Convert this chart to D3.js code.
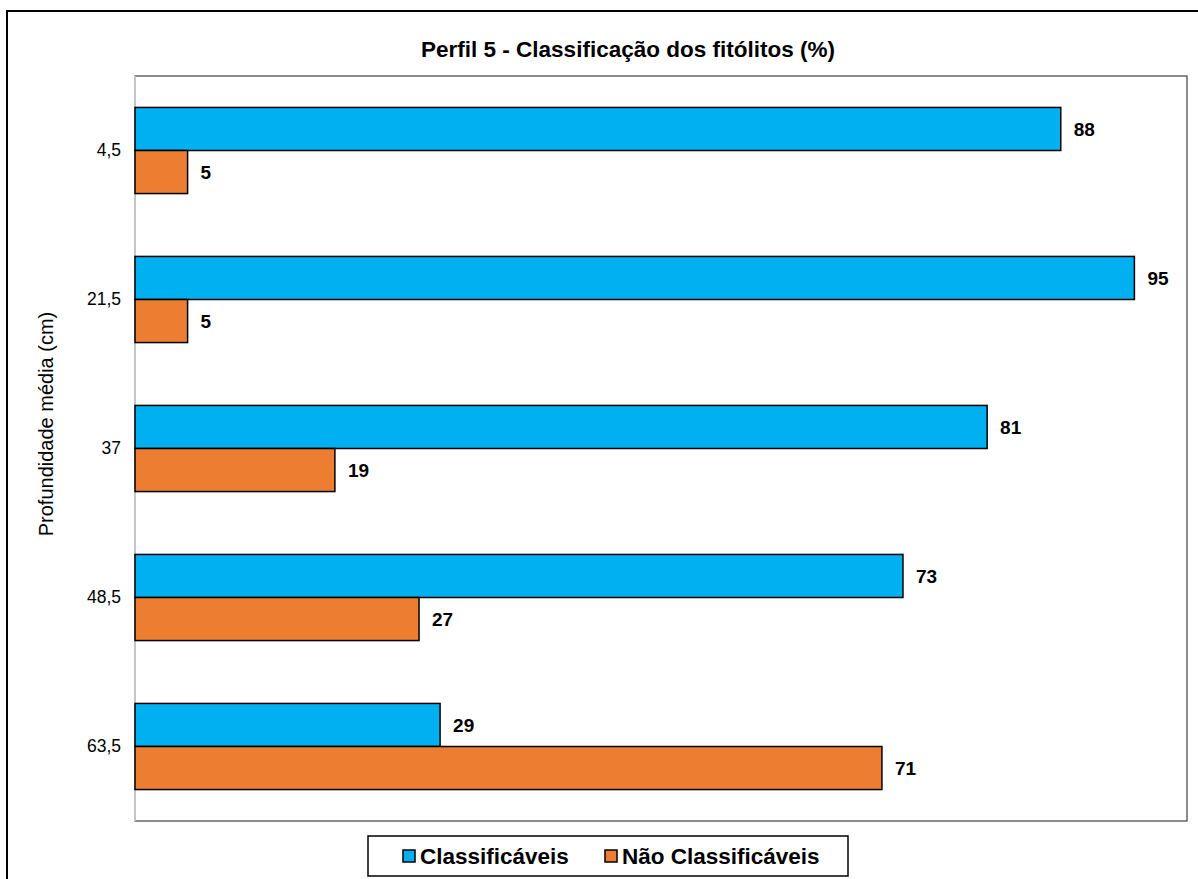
<!DOCTYPE html>
<html>
<head>
<meta charset="utf-8">
<script src="https://cdn.jsdelivr.net/npm/d3@7"></script>
<style>
  body { margin: 0; background: #fff; }
  svg { display: block; font-family: "Liberation Sans", Arial, sans-serif; }
</style>
</head>
<body>
<svg id="chart" width="1198" height="879"></svg>
<script>
// Depth classes (cm) and phytolith classification percentages
const depths = ["4,5", "21,5", "37", "48,5", "63,5"];
const classificaveis = [88, 95, 81, 73, 29];
const naoClassificaveis = [5, 5, 19, 27, 71];
const seriesNames = ["Classificáveis", "Não Classificáveis"];
const seriesColors = ["#00B0F0", "#ED7D31"];
const xDomain = [0, 100];

const svg = d3.select("#chart");
const W = 1198, H = 879;

// outer frame
svg.append("rect")
  .attr("x", 7).attr("y", 11)
  .attr("width", W + 10).attr("height", H + 10)
  .attr("fill", "#fff").attr("stroke", "#000").attr("stroke-width", 2);

const plot = { left: 135, top: 76, right: 1187, bottom: 821 };

const y = d3.scaleBand()
  .domain(depths)
  .range([plot.top, plot.bottom])
  .paddingInner(0.422)
  .paddingOuter(0.211);

const sub = d3.scaleBand()
  .domain(seriesNames)
  .range([0, y.bandwidth()]);

const x = d3.scaleLinear().domain(xDomain).range([plot.left, plot.right]);

// plot area border
svg.append("rect")
  .attr("x", plot.left).attr("y", plot.top)
  .attr("width", plot.right - plot.left).attr("height", plot.bottom - plot.top)
  .attr("fill", "#fff").attr("stroke", "#404040").attr("stroke-width", 1.2);

// category axis line
svg.append("line")
  .attr("x1", plot.left).attr("x2", plot.left)
  .attr("y1", plot.top).attr("y2", plot.bottom)
  .attr("stroke", "#d9d9d9").attr("stroke-width", 1.5);

// title
svg.append("text")
  .attr("x", 628).attr("y", 57)
  .attr("text-anchor", "middle")
  .attr("font-size", 22.5).attr("font-weight", "bold")
  .text("Perfil 5 - Classificação dos fitólitos (%)");

const rows = depths.map((d, i) => ({
  depth: d,
  values: [
    { name: seriesNames[0], value: classificaveis[i], color: seriesColors[0] },
    { name: seriesNames[1], value: naoClassificaveis[i], color: seriesColors[1] }
  ]
}));

const groups = svg.append("g").selectAll("g")
  .data(rows).join("g")
  .attr("transform", d => `translate(0,${y(d.depth)})`);

groups.selectAll("rect")
  .data(d => d.values).join("rect")
  .attr("x", x(0))
  .attr("y", d => sub(d.name))
  .attr("width", d => x(d.value) - x(0))
  .attr("height", sub.bandwidth())
  .attr("fill", d => d.color)
  .attr("stroke", "#000").attr("stroke-width", 1.5);

groups.selectAll("text")
  .data(d => d.values).join("text")
  .attr("x", d => x(d.value) + 13)
  .attr("y", d => sub(d.name) + sub.bandwidth() / 2)
  .attr("dy", "0.36em")
  .attr("font-size", 19).attr("font-weight", "bold")
  .text(d => d.value);

// y axis tick labels
const yAxis = d3.axisLeft(y).tickSize(0).tickPadding(14);
const gy = svg.append("g")
  .attr("transform", `translate(${plot.left},0)`)
  .call(yAxis);
gy.select(".domain").remove();
gy.selectAll("text")
  .attr("font-size", 17.5)
  .attr("font-family", "'Liberation Sans', Arial, sans-serif")
  .attr("fill", "#000");

// y axis title
svg.append("text")
  .attr("transform", "translate(53,424) rotate(-90)")
  .attr("text-anchor", "middle")
  .attr("font-size", 20)
  .text("Profundidade média (cm)");

// legend
const legend = svg.append("g");
legend.append("rect")
  .attr("x", 368).attr("y", 836).attr("width", 480).attr("height", 40)
  .attr("fill", "#fff").attr("stroke", "#000").attr("stroke-width", 1.5);

const legendX = [403, 605];
seriesNames.forEach((name, i) => {
  legend.append("rect")
    .attr("x", legendX[i]).attr("y", 850).attr("width", 12).attr("height", 12)
    .attr("fill", seriesColors[i]).attr("stroke", "#000").attr("stroke-width", 1.5);
  legend.append("text")
    .attr("x", legendX[i] + 17).attr("y", 864)
    .attr("font-size", 22.5).attr("font-weight", "bold")
    .text(name);
});
</script>
</body>
</html>
